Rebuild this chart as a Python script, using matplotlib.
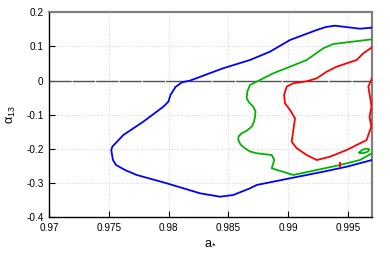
import matplotlib
matplotlib.use("Agg")
import matplotlib.pyplot as plt

plt.rcParams['font.family'] = ['Liberation Sans', 'DejaVu Sans']
plt.rcParams['mathtext.fontset'] = 'custom'
plt.rcParams['mathtext.rm'] = 'Liberation Sans'
plt.rcParams['mathtext.it'] = 'Liberation Sans'
plt.rcParams['mathtext.bf'] = 'Liberation Sans:bold'

# ---- data (contour traces in a_* / alpha_13 coordinates) ----
blue_a = [0.99703, 0.99602, 0.99393, 0.99317, 0.99240, 0.99016, 0.98848, 0.98681,
          0.98455, 0.98178, 0.98111, 0.98057, 0.98015, 0.97997, 0.97955, 0.97787,
          0.97620, 0.97528, 0.97519, 0.97533, 0.97559, 0.97634, 0.97732, 0.97983,
          0.98262, 0.98430, 0.98541, 0.98681, 0.98737, 0.99016, 0.99295, 0.99491,
          0.99703]
blue_alpha = [0.155, 0.152, 0.1608, 0.157, 0.1482, 0.1189, 0.0847, 0.0604,
              0.0361, 0.0, -0.0049, -0.0186, -0.042, -0.0616, -0.0763, -0.1202,
              -0.1591, -0.1933, -0.203, -0.2323, -0.2469, -0.2615, -0.2761, -0.3004,
              -0.3297, -0.3397, -0.3347, -0.3151, -0.3054, -0.2858, -0.2665, -0.2519,
              -0.2323]

green_a = [0.99703, 0.99378, 0.99295, 0.99156, 0.99016, 0.98876, 0.98681, 0.98658,
           0.98653, 0.98673, 0.98709, 0.98727, 0.98723, 0.98714, 0.98695, 0.98656,
           0.98611, 0.98585, 0.98583, 0.98601, 0.98639, 0.98681, 0.98737, 0.98863,
           0.98884, 0.98863, 0.99044, 0.99240, 0.99435, 0.99602, 0.99703]
green_alpha = [0.121, 0.1072, 0.0946, 0.0604, 0.0408, 0.0215, -0.0128, -0.0324,
               -0.0517, -0.064, -0.0763, -0.0903, -0.1055, -0.121, -0.1348, -0.1459,
               -0.1541, -0.1635, -0.1737, -0.1869, -0.198, -0.2074, -0.2126, -0.2176,
               -0.2323, -0.2565, -0.2761, -0.2615, -0.2469, -0.2323, -0.2126]

green_loop_a = [0.99598, 0.99619, 0.99652, 0.99680, 0.99673, 0.99636, 0.99606, 0.99598]
green_loop_alpha = [-0.2103, -0.2030, -0.1992, -0.2009, -0.2068, -0.2118, -0.2126, -0.2103]

red_a = [0.99703, 0.99630, 0.99574, 0.99491, 0.99407, 0.99323, 0.99240, 0.99156,
         0.99044, 0.98988, 0.98966, 0.98974, 0.99016, 0.99058, 0.99044, 0.99030,
         0.99072, 0.99156, 0.99240, 0.99351, 0.99491, 0.99658, 0.99672, 0.99697,
         0.99682, 0.99699, 0.99686, 0.99672, 0.99700]
red_alpha = [0.0976, 0.080, 0.0604, 0.0507, 0.0408, 0.0262, 0.0068, -0.0019,
             -0.0078, -0.0177, -0.042, -0.0663, -0.0859, -0.1102, -0.1445, -0.1787,
             -0.198, -0.2176, -0.2323, -0.2226, -0.203, -0.1737, -0.1591, -0.1348,
             -0.1055, -0.0763, -0.047, -0.0177, 0.005]

red_dot_a = [0.99427, 0.99431, 0.99431, 0.99427, 0.99427]
red_dot_alpha = [-0.2385, -0.2385, -0.2485, -0.2485, -0.2385]

xticks = [0.97, 0.975, 0.98, 0.985, 0.99, 0.995]
xtick_labels = ['0.97', '0.975', '0.98', '0.985', '0.99', '0.995']
yticks = [-0.4, -0.3, -0.2, -0.1, 0, 0.1, 0.2]
ytick_labels = ['-0.4', '-0.3', '-0.2', '-0.1', '0', '0.1', '0.2']

# ---- figure ----
fig = plt.figure(figsize=(3.9, 2.6), dpi=100)
ax = fig.add_axes([0.1264, 0.1642, 0.953 - 0.1264, 0.9527 - 0.1642])

ax.set_xlim(0.97, 0.997)
ax.set_ylim(-0.4, 0.2)

ax.grid(True, color='#c8c8c8', linestyle=(0, (1, 2)), linewidth=0.6)
ax.set_axisbelow(True)

ax.axhline(0, color='#505050', linewidth=1.0, dashes=(16, 0.8), zorder=2)

lw = 1.3
ax.plot(blue_a, blue_alpha, color='#0000ff', lw=lw, zorder=3)
ax.plot(green_a, green_alpha, color='#00b400', lw=lw, zorder=3)
ax.plot(green_loop_a, green_loop_alpha, color='#00b400', lw=lw, zorder=3)
ax.plot(red_a, red_alpha, color='#ff0000', lw=lw, zorder=3)
ax.fill(red_dot_a, red_dot_alpha, color='#ff0000', lw=0.8, zorder=3)

ax.set_xticks(xticks)
ax.set_xticklabels(xtick_labels)
ax.set_yticks(yticks)
ax.set_yticklabels(ytick_labels)
ax.tick_params(direction='in', length=4, width=0.8, labelsize=7.2, colors='#000000',
               top=False, right=False, pad=4)

for s in ['left', 'bottom']:
    ax.spines[s].set_color('black')
    ax.spines[s].set_linewidth(1.0)
for s in ['top', 'right']:
    ax.spines[s].set_color('#808080')
    ax.spines[s].set_linewidth(1.6)

ax.set_xlabel(r'a$_{*}$', fontsize=9, labelpad=2)
ax.set_ylabel(r'$\alpha_{13}$', fontsize=9, labelpad=6)

fig.savefig('out.png', dpi=100)
